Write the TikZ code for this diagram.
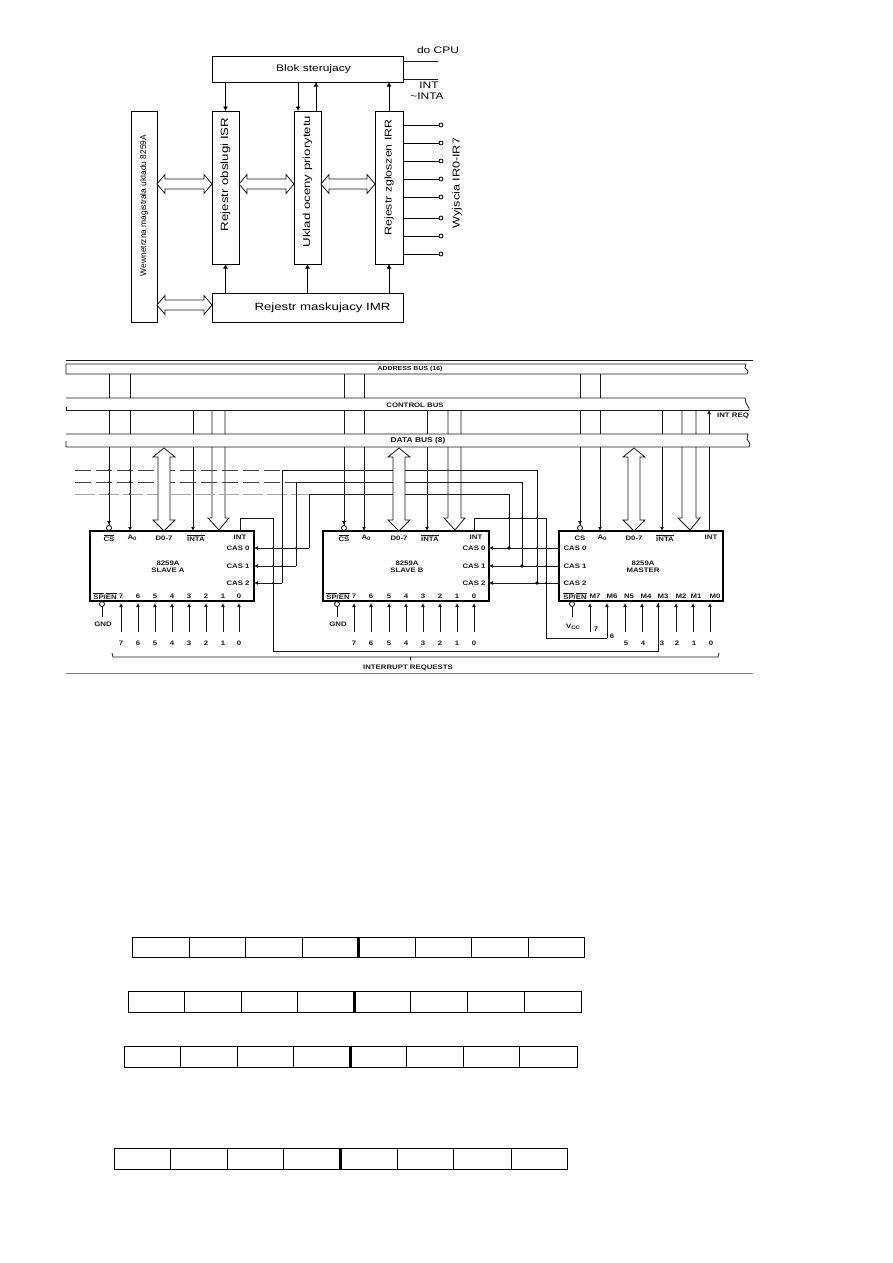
\documentclass[tikz,border=0pt]{standalone}
\usepackage{fontspec}
\setmainfont{Liberation Sans}
\newfontfamily\widef[FakeStretch=1.26]{Liberation Sans}
\newfontfamily\widerf[FakeStretch=1.32]{Liberation Sans}
\newfontfamily\smallf[FakeStretch=1.2]{Liberation Sans}
\usetikzlibrary{arrows.meta,calc}
\newcommand{\fs}[1]{\fontsize{#1}{#1}\selectfont}
\newcommand{\ol}[1]{$\overline{\mbox{#1}}$}
\newcommand{\sbs}[1]{\raisebox{-1.2pt}{\fs{5}#1}}
% horizontal hollow double arrow between two named nodes at height #3
\newcommand{\hdbl}[3]{\draw[hollow] let \p1=(#1.east |- 0,#3), \p2=(#2.west |- 0,#3) in
 (\x1,\y1) -- ++(8pt,9.5pt) -- ++(0,-4.5pt) -- (\x2-8pt,\y2+5pt) -- ++(0,4.5pt) -- (\x2,\y2) -- ++(-8pt,-9.5pt) -- ++(0,4.5pt) -- (\x1+8pt,\y1-5pt) -- ++(0,-4.5pt) -- cycle;}
% vertical hollow double arrow from coordinate #1 (top) down to node anchor #2
\newcommand{\vdbl}[2]{\draw[hollow] let \p1=(#1), \p2=(#2) in
 (\x1,\y1) -- ++(11pt,-9pt) -- ++(-5pt,0) -- (\x2+6pt,\y2+11pt) -- ++(5pt,0) -- (\x2,\y2) -- ++(-11pt,11pt) -- ++(5pt,0) -- (\x1-6pt,\y1-9pt) -- ++(-5pt,0) -- cycle;}
% pair of lines ending in a hollow head
\newcommand{\ctl}[3]{\draw[ln] (#1,410) -- (#1,518) -- (#1-4,518) -- (#2,530) -- (#3+4,518) -- (#3,518) -- (#3,410);}
\tikzset{
 ln/.style={line width=0.8pt,draw=black!90},
 bx/.style={draw,line width=0.8pt,fill=white,inner sep=0,outer sep=0},
 chip/.style={draw,line width=1.4pt,fill=white,inner sep=0,outer sep=0,minimum width=#1,minimum height=70},
 hollow/.style={line width=0.8pt,draw=black!90,fill=white},
 arr/.style={line width=0.8pt,draw=black!90,-{Latex[length=4pt,width=4pt]}},
 arrb/.style={line width=0.9pt,-{Latex[length=4.5pt,width=5pt]}},
 t/.style={font=\smallf\fs{6.5}\bfseries,inner sep=0,text=black!90},
 lab/.style={font=\widef\fs{9.5},inner sep=0},
 vlab/.style={font=\widef\fs{10},inner sep=0,rotate=90},
 open/.style={draw,line width=0.8pt,fill=white,circle,inner sep=0,minimum size=#1},
 jd/.style={circle,fill=black,inner sep=0,minimum size=1.8pt},
 jb/.style={circle,fill=black,inner sep=0,minimum size=3.6pt},
 dsh/.style={line width=0.8pt,draw=black!75,dash pattern=on 16pt off 5pt},
 dshl/.style={line width=0.7pt,draw=black!35,dash pattern=on 20pt off 4pt},
 band/.style={fill=white,draw=none},
 bl/.style={line width=0.8pt,draw=black!90},
}
\begin{document}
\begin{tikzpicture}[x=1pt,y=-1pt]
\useasboundingbox (0,0) rectangle (893,1263);
\fill[white] (0,0) rectangle (893,1263);
% ---------- block diagram
\node[bx,minimum width=191,minimum height=26] (blok) at (307.5,69) {\widef\fs{9.5}\hspace*{12pt}Blok sterujacy};
\node[bx,minimum width=26,minimum height=211] (wew) at (144,216.5) {\rotatebox{90}{\hspace*{22pt}\fs{8.4}Wewnetrzna magistrala ukladu 8259A}};
\node[bx,minimum width=27,minimum height=153] (isr) at (225.5,187.5) {\rotatebox{90}{\hspace*{26pt}\widef\fs{10.5}Rejestr obslugi ISR}};
\node[bx,minimum width=27,minimum height=153] (uk) at (307.5,187.5) {\rotatebox{90}{\hspace*{12pt}\widerf\fs{10}Uklad oceny priorytetu}};
\node[bx,minimum width=28,minimum height=153] (irr) at (389,187.5) {\rotatebox{90}{\hspace*{20pt}\widef\fs{9.8}Rejestr zgloszen IRR}};
\node[bx,minimum width=191,minimum height=29] (imr) at (307.5,307.5) {\widef\fs{10.5}\hspace*{30pt}Rejestr maskujacy IMR};
\draw[arrb] (blok.south -| isr.north) -- (isr.north);
\draw[arrb] (298,82) -- (298,111);
\draw[arrb] (316,111) -- (316,82);
\draw[arrb] (irr.north) -- (blok.south -| irr.north);
\draw[arrb] (imr.north -| isr.south) -- (isr.south);
\draw[arrb] (imr.north -| uk.south) -- (uk.south);
\draw[arrb] (imr.north -| irr.south) -- (irr.south);
\coordinate (cpu1) at (438,61);
\coordinate (cpu2) at (438,79);
\draw[bl] (blok.east |- cpu1) -- (cpu1);
\draw[bl] (blok.east |- cpu2) -- (cpu2);
\node[lab] (docpu) at (438,50) {do CPU};
\node[lab] (intt) at (429,85) {INT};
\node[lab] (inta) at (427,96) {\textasciitilde INTA};
\foreach \i/\y in {0/125,1/143,2/161,3/179,4/197,5/218,6/236,7/254}{
 \node[open=4pt] (ir\i) at (441,\y) {};
 \draw[line width=0.8pt] (irr.east |- ir\i) -- (ir\i);
}
\node[vlab] (wy) at (457,183) {Wyjscia IR0-IR7};
\hdbl{wew}{isr}{184}
\hdbl{isr}{uk}{184}
\hdbl{uk}{irr}{184}
\hdbl{wew}{imr}{305}
% ---------- bus wiring: chips
\node[chip=164] (sa) at (172,566) {};
\node[chip=166] (sb) at (406,566) {};
\node[chip=164] (ma) at (641,566) {};
% vertical bus lines
\foreach \c/\x in {sa/109,sa/130,sb/344,sb/364,ma/580,ma/600}{
 \draw[ln] (\x,374) -- (\x,525);
}
\foreach \x in {130,364,600}{ \draw[arr] (\x,500) -- (\x,531); }
\foreach \x/\n in {109/csa,344/csb,580/csm}{
 \node[open=5pt] (\n) at (\x,528) {};
 \draw[arr] (\x,500) -- (\n.north);
}
\foreach \x in {193,427,662}{ \draw[arr] (\x,410) -- (\x,531); }
\ctl{212}{219}{225}
\ctl{448}{455}{461}
\ctl{682}{690}{696}
\coordinate (irq) at (709,410);
\draw[ln] (709,531) -- (709,447);
\draw[arr] (709,434) -- (709,410);
% dashed and solid CAS lines
\draw[dsh] (75,470) -- (282,470);
\draw[dsh] (75,482) -- (296,482);
\draw[dshl] (75,494) -- (309,494);
\foreach \y in {470,482,494}{\foreach \x in {109,130}{\node[jd] at (\x,\y) {};}}
\draw[ln] (282,583) -- (282,470) -- (537,470) -- (537,583);
\draw[ln] (296,566) -- (296,482) -- (522,482) -- (522,566);
\draw[ln] (309,548) -- (309,494) -- (509,494) -- (509,548);
\draw[arr] (309,548) -- (sa.east |- 0,548);
\draw[arr] (296,566) -- (sa.east |- 0,566);
\draw[arr] (282,583) -- (sa.east |- 0,583);
\draw[arr] (ma.west |- 0,548) -- (sb.east |- 0,548);
\draw[arr] (ma.west |- 0,566) -- (sb.east |- 0,566);
\draw[arr] (ma.west |- 0,583) -- (sb.east |- 0,583);
% INT of slaves
\draw[ln] (240,531) -- (240,518) -- (273,518) -- (273,651) -- (658,651) -- (658,603);
\draw[arr] (658,625) -- (658,603);
\draw[ln] (474,531) -- (474,518) -- (546,518) -- (546,638) -- (607,638);
\draw[arr] (607,638) -- (607,603);
\foreach \x/\y in {273/548,282/548,296/548,273/566,282/566,273/583,509/518,522/518,537/518,522/548,537/548,546/548,537/566,546/566,546/583}{
 \node[jd] at (\x,\y) {};
}
\foreach \x/\y in {509/548,522/566,537/583}{\node[jb] at (\x,\y) {};}
% hollow data arrows
\coordinate (da) at (164,448); \coordinate (db) at (399,448); \coordinate (dm) at (634,448);
\vdbl{da}{164,531}
\vdbl{db}{399,531}
\vdbl{dm}{634,531}
% bus bands
\fill[band] (60,364) rectangle (747,374);
\fill[band] (60,398) rectangle (747,410);
\fill[band] (60,434) rectangle (747,447);
\draw[bl,line width=1pt] (66,360) -- (753,360);
\draw[bl] (66,364) -- (746,364) -- (745,368) -- (748,371) -- (747,374) -- (66,374) -- cycle;
\draw[bl] (66,410) -- (66,407);
\draw[bl] (66,398) -- (745,398) -- (746,403) -- (749,408) -- (749,410);
\draw[bl,line width=1pt] (66,410) -- (749,410);
\draw[bl] (66,434) -- (748,434) -- (747,439) -- (750,444) -- (749,447) -- (66,447) -- (66,441);
\draw[line width=0.8pt,draw=black!50] (66,673) -- (753,673);
\node[t,font=\smallf\fs{5.8}\bfseries] (ab) at (410,369) {ADDRESS BUS (16)};
\node[t] (cb) at (415,405) {CONTROL BUS};
\node[t,font=\smallf\fs{7}\bfseries] (dbs) at (418,441) {DATA BUS (8)};
\node[t] (ir) at (733,416) {INT REQ};
% chip labels
\node[t] (ac1) at (109,538) {\ol{CS}};
\node[t] (ac2) at (132,538) {A\sbs{0}};
\node[t] (ac3) at (164,538) {D0-7};
\node[t] (ac4) at (196,538) {\ol{INTA}};
\node[t] (ac5) at (240,537) {INT};
\node[t] (ac6) at (238,548) {CAS 0};
\node[t] (ac7) at (238,566) {CAS 1};
\node[t] (ac8) at (238,583) {CAS 2};
\node[t,align=center] (ac9) at (168,567) {8259A\\[1pt]SLAVE A};
\node[t] (ac10) at (105,596) {\ol{SP}/\ol{EN}};
\node[t] (bc1) at (344,538) {\ol{CS}};
\node[t] (bc2) at (366,538) {A\sbs{0}};
\node[t] (bc3) at (399,538) {D0-7};
\node[t] (bc4) at (430,538) {\ol{INTA}};
\node[t] (bc5) at (476,537) {INT};
\node[t] (bc6) at (474,548) {CAS 0};
\node[t] (bc7) at (474,566) {CAS 1};
\node[t] (bc8) at (474,583) {CAS 2};
\node[t,align=center] (bc9) at (407,567) {8259A\\[1pt]SLAVE B};
\node[t] (bc10) at (338,596) {\ol{SP}/\ol{EN}};
\node[t] (mc1) at (580,538) {CS};
\node[t] (mc2) at (602,538) {A\sbs{0}};
\node[t] (mc3) at (634,538) {D0-7};
\node[t] (mc4) at (665,538) {\ol{INTA}};
\node[t] (mc5) at (711,537) {INT};
\node[t] (mc6) at (575,548) {CAS 0};
\node[t] (mc7) at (575,566) {CAS 1};
\node[t] (mc8) at (575,583) {CAS 2};
\node[t,align=center] (mc9) at (643,567) {8259A\\[1pt]MASTER};
\node[t] (mc10) at (575,596) {\ol{SP}/\ol{EN}};
\foreach \v/\x in {7/121,6/138,5/155,4/172,3/189,2/206,1/223,0/239}{
 \node[t] (pa\v) at (\x,596) {\v};
 \node[t] (ra\v) at (\x,643) {\v};
 \draw[arr] (\x,632) -- (\x,603);
}
\foreach \v/\x in {7/354,6/371,5/389,4/406,3/423,2/440,1/457,0/474}{
 \node[t] (pb\v) at (\x,596) {\v};
 \node[t] (rb\v) at (\x,643) {\v};
 \draw[arr] (\x,632) -- (\x,603);
}
\foreach \l/\x in {M7/595,M6/612,N5/629,M4/646,M3/663,M2/681,M1/696,M0/715}{
 \node[t] (lb\l) at (\x,596) {\l};
}
\foreach \v/\x in {5/625,4/642,2/676,1/693,0/710}{
 \node[t] (rm\v) at (\x+1,643) {\v};
 \draw[arr] (\x,632) -- (\x,603);
}
\draw[arr] (590,632) -- (590,603);
\node[t] (rm7) at (596,629) {7};
\node[t] (rm6) at (612,636) {6};
\node[t] (rm3) at (662,643) {3};
% GND / Vcc
\foreach \n/\x in {ga/102,gb/337,gm/572}{
 \node[open=5pt] (\n) at (\x,604) {};
 \coordinate (\n e) at (\x,617);
 \draw[ln] (\n) -- (\n e);
}
\node[t] (gnda) at (103,624) {GND};
\node[t] (gndb) at (338,624) {GND};
\node[t] (vcc) at (573,627) {V\sbs{CC}};
% interrupt requests brace
\draw[ln] (112,653) -- (113,657) -- (718,657) -- (719,653);
\draw[ln] (410,657) -- (410,660);
\node[t] (irs) at (408,668) {INTERRUPT REQUESTS};
% ---------- registers
\foreach \yy/\xa/\xb/\da/\db/\dc/\dd/\de/\df/\dg/\h in {
 947/132.5/584/189/245/302/358/415/471/528/20,
 1001.5/128.5/581/184/241/297/354/410/467/524/21,
 1056.5/124.5/577/180/237/293/350/406/463/519/21,
 1158.5/114.5/567/170/227/283/340/397/453/511/21}{
 \pgfmathsetmacro{\ya}{\yy-\h/2}\pgfmathsetmacro{\yb}{\yy+\h/2}
 \draw[line width=0.8pt] (\xa,\ya) rectangle (\xb,\yb);
 \foreach \d in {\da,\db,\dc,\de,\df,\dg}{\draw[line width=0.8pt] (\d,\ya) -- (\d,\yb);}
 \draw[line width=3pt] (\dd,\ya) -- (\dd,\yb);
}
\end{tikzpicture}
\end{document}
